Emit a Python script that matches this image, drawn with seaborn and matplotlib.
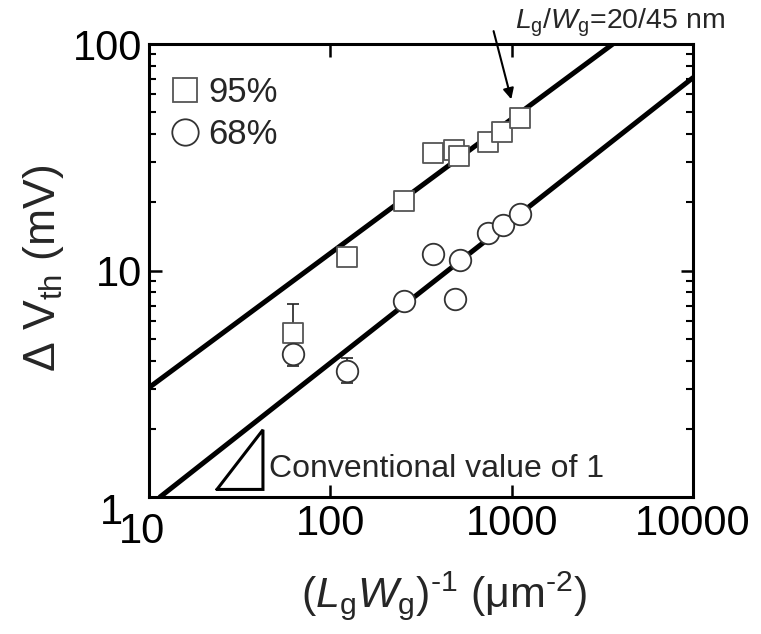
import numpy as np
import pandas as pd
import matplotlib
matplotlib.use("Agg")
import matplotlib.pyplot as plt
import matplotlib.transforms as mtransforms
from matplotlib.lines import Line2D
import seaborn as sns

# ---- data ----
x95 = [62, 124, 254, 369, 480, 512, 740, 889, 1112]
y95 = [5.3, 11.5, 20.3, 33.0, 34.0, 32.0, 37.0, 41.0, 47.0]
err95_lo = [0.0, 0.35, 0, 0, 0, 0, 0, 0, 0]
err95_hi = [1.8, 0.0, 0, 0, 0, 0, 0, 0, 0]

x68 = [62, 124, 254, 369, 490, 516, 740, 900, 1112]
y68 = [4.3, 3.6, 7.3, 11.8, 7.5, 11.1, 14.6, 15.9, 17.8]
err68_lo = [0.5, 0.42, 0, 0, 0, 0, 0, 0, 0]
err68_hi = [0.0, 0.5, 0, 0, 0, 0, 0, 0, 0]

fit95_x = [10, 3614]
fit95_y = [3.04, 100]
fit68_x = [11.5, 10000]
fit68_y = [1.0, 71]

tri_x = [23.7, 42.5, 42.5, 23.7]
tri_y = [1.08, 1.08, 1.98, 1.08]

xticks = [10, 100, 1000, 10000]
yticks = [1, 10, 100]
series_labels = ["95%", "68%"]

FONT = "Liberation Sans"
sns.set_theme(style="ticks")
plt.rcParams["font.family"] = [FONT, "DejaVu Sans"]
plt.rcParams["mathtext.fontset"] = "custom"
plt.rcParams["mathtext.rm"] = FONT
plt.rcParams["mathtext.it"] = FONT + ":italic"

fig = plt.figure(figsize=(7.61, 6.34), dpi=100)
ax = fig.add_axes([149 / 761, 1 - 497 / 634, 544 / 761, 453 / 634])
ax.set_xscale("log")
ax.set_yscale("log")
ax.set_xlim(10, 10000)
ax.set_ylim(1, 100)

df95 = pd.DataFrame({"x": x95, "y": y95})
df68 = pd.DataFrame({"x": x68, "y": y68})

sns.lineplot(x=fit95_x, y=fit95_y, ax=ax, color="black", lw=3.6, zorder=2)
sns.lineplot(x=fit68_x, y=fit68_y, ax=ax, color="black", lw=3.6, zorder=2)

ax.errorbar(x95, y95, yerr=[err95_lo, err95_hi], fmt="none", ecolor="#222222",
            elinewidth=1.2, capsize=4, capthick=1.2, zorder=3)
ax.errorbar(x68, y68, yerr=[err68_lo, err68_hi], fmt="none", ecolor="#222222",
            elinewidth=1.2, capsize=4, capthick=1.2, zorder=3)

sns.scatterplot(data=df95, x="x", y="y", ax=ax, marker="s", s=15 ** 2,
                facecolor="white", edgecolor="#555555", linewidth=1.3,
                zorder=4, legend=False)
sns.scatterplot(data=df68, x="x", y="y", ax=ax, marker="o", s=15.5 ** 2,
                facecolor="white", edgecolor="#333333", linewidth=1.3,
                zorder=5, legend=False)

ax.plot(tri_x, tri_y, color="black", lw=2.2, solid_joinstyle="miter", zorder=3)
ax.text(46, 1.225, "Conventional value of 1", fontsize=23, va="baseline", ha="left")

ax.annotate("", xy=(995, 57), xytext=(795, 114), xycoords="data",
            arrowprops=dict(arrowstyle="-|>", color="black", lw=1.5,
                            mutation_scale=16, shrinkA=0, shrinkB=0),
            annotation_clip=False)
fig.text(515 / 761, 1 - 23 / 634, r"$\it{L}_{\rm g}$/$\it{W}_{\rm g}$=20/45 nm",
         fontsize=20.5, ha="left", va="center")

handles = [
    Line2D([], [], ls="none", marker="s", ms=17.5, mfc="white", mec="#555555", mew=1.3),
    Line2D([], [], ls="none", marker="o", ms=19, mfc="white", mec="#333333", mew=1.3),
]
ax.legend(handles, series_labels, loc="upper left", frameon=False, fontsize=25,
          handletextpad=0.2, borderaxespad=0, borderpad=0, labelspacing=0.27,
          handlelength=0.95, bbox_to_anchor=(0.035, 0.930))

ax.set_xticks(xticks)
ax.set_xticklabels([str(t) for t in xticks])
ax.set_yticks(yticks)
ax.set_yticklabels([str(t) for t in yticks])
ax.xaxis.set_minor_locator(matplotlib.ticker.NullLocator())
ax.yaxis.set_minor_locator(matplotlib.ticker.LogLocator(base=10, subs=np.arange(2, 10)))
ax.yaxis.set_minor_formatter(matplotlib.ticker.NullFormatter())
ax.tick_params(which="both", direction="in", top=True, right=True, colors="black")
ax.tick_params(which="major", length=9, width=1.8, labelsize=30)
ax.tick_params(axis="x", which="major", pad=5)
ax.tick_params(axis="y", which="major", pad=5)
ax.tick_params(which="minor", length=5, width=1.5)
for sp in ax.spines.values():
    sp.set_linewidth(2.2)
    sp.set_color("black")

# offsets of the crowded corner labels, as in the reference
for lab in ax.get_yticklabels():
    if lab.get_text() == "1":
        lab.set_transform(lab.get_transform() +
                          mtransforms.ScaledTranslation(-0.19, -0.11, fig.dpi_scale_trans))
for lab in ax.get_xticklabels():
    if lab.get_text() == "10":
        lab.set_transform(lab.get_transform() +
                          mtransforms.ScaledTranslation(-0.07, -0.08, fig.dpi_scale_trans))

ax.set_xlabel(r"($\it{L}_{\rm g}\it{W}_{\rm g}$)$^{\text{-1}}$ ($\rm\mu$m$^{\text{-2}}$)",
              fontsize=31)
ax.xaxis.set_label_coords((444 - 149) / 544, (497 - 569) / 453)
ax.set_ylabel(r"$\Delta$ V$_{\rm th}$ (mV)", fontsize=32)
ax.yaxis.set_label_coords((66 - 149) / 544, (497 - 268) / 453)

fig.savefig("out.png", dpi=100)
